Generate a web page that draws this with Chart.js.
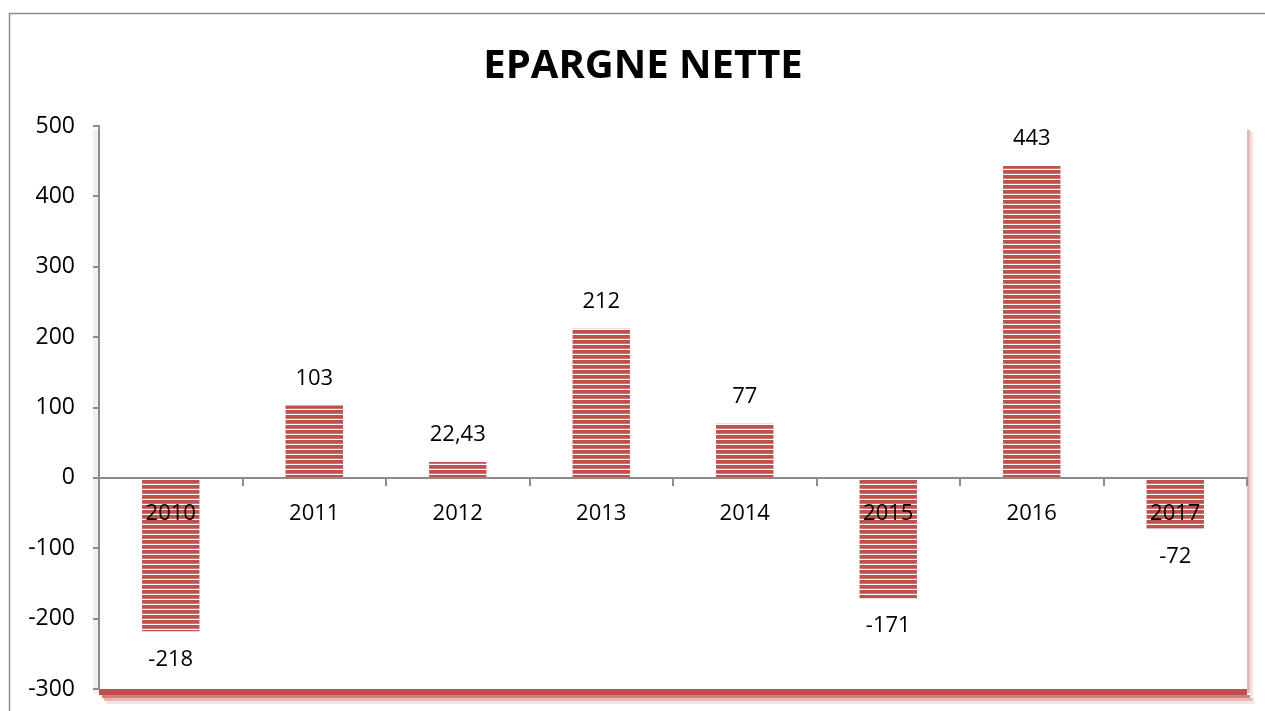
<!DOCTYPE html>
<html>
<head>
<meta charset="utf-8">
<script src="https://cdn.jsdelivr.net/npm/chart.js@4"></script>
<style>
html,body{margin:0;padding:0;background:#fff;}
#wrap{width:1265px;height:711px;position:relative;}
</style>
</head>
<body>
<div id="wrap"><canvas id="c" width="1265" height="711"></canvas></div>
<script>
const categories = ['2010','2011','2012','2013','2014','2015','2016','2017'];
const epargneNette = [-218, 103, 22.43, 212, 77, -171, 443, -72];
const yTicks = { min: -300, max: 500, step: 100 };
const chartTitle = 'EPARGNE NETTE';

const RED = '#C0504D';
const FONT = '"Open Sans", "Liberation Sans", sans-serif';

function stripePattern(){
  const p = document.createElement('canvas');
  p.width = 8; p.height = 5;
  const g = p.getContext('2d');
  g.fillStyle = '#ffffff'; g.fillRect(0,0,8,5);
  g.fillStyle = RED; g.fillRect(0,0,8,3.8);
  return g.createPattern(p,'repeat');
}

const fmt = v => String(v).replace('.', ',');

const decor = {
  id: 'decor',
  beforeDraw(chart){
    const ctx = chart.ctx, a = chart.chartArea;
    ctx.save();
    ctx.strokeStyle = '#8c8c8c'; ctx.lineWidth = 1.5;
    ctx.beginPath(); ctx.moveTo(9.5, 711); ctx.lineTo(9.5, 13.5); ctx.lineTo(1265, 13.5); ctx.stroke();
    ctx.fillStyle = 'rgba(230,185,184,0.25)';
    ctx.fillRect(a.left-6, a.top+4, 6, a.bottom-a.top);
    ctx.fillStyle = '#E6B9B8'; ctx.fillRect(a.right, a.top+4, 3, a.bottom-a.top);
    ctx.fillStyle = '#F5E3E3'; ctx.fillRect(a.right+3, a.top+6, 3, a.bottom-a.top+2);
    ctx.fillStyle = RED; ctx.fillRect(a.left, a.bottom, a.right-a.left, 6);
    ctx.fillStyle = '#D17F7D'; ctx.fillRect(a.left+3, a.bottom+6, a.right-a.left, 3);
    ctx.fillStyle = '#E6B9B8'; ctx.fillRect(a.left+5, a.bottom+9, a.right-a.left+1, 3);
    ctx.fillStyle = '#F6E4E4'; ctx.fillRect(a.left+7, a.bottom+12, a.right-a.left+1, 3);
    ctx.fillStyle = '#000'; ctx.font = 'bold 40px ' + FONT;
    ctx.textAlign = 'center'; ctx.textBaseline = 'middle';
    ctx.fillText(chartTitle, 643, 67);
    ctx.restore();
  },
  afterDatasetsDraw(chart){
    const ctx = chart.ctx;
    const meta = chart.getDatasetMeta(0);
    ctx.save();
    ctx.fillStyle = '#000'; ctx.font = '22px ' + FONT;
    ctx.textAlign = 'center'; ctx.textBaseline = 'middle';
    meta.data.forEach((bar, i) => {
      const v = chart.data.datasets[0].data[i];
      const y = v >= 0 ? bar.y - 27 : bar.y + 28;
      ctx.fillText(fmt(v), bar.x, y);
    });
    ctx.restore();
  }
};

new Chart(document.getElementById('c'), {
  type: 'bar',
  data: {
    labels: categories,
    datasets: [{
      data: epargneNette,
      backgroundColor: stripePattern(),
      borderWidth: 0,
      categoryPercentage: 1,
      barPercentage: 0.4
    }]
  },
  options: {
    responsive: false,
    animation: false,
    events: [],
    layout: { padding: { left: 0, top: 126, right: 18, bottom: 22 } },
    plugins: { legend: { display: false }, title: { display: false }, tooltip: { enabled: false } },
    scales: {
      x: {
        position: { y: 0 },
        afterFit(s){ s.height = 0; },
        grid: { display: true, drawOnChartArea: false, drawTicks: true, tickLength: 7, color: '#8c8c8c', lineWidth: 2, offset: true, z: 1 },
        border: { display: true, color: '#8c8c8c', width: 2, z: 1 },
        ticks: { color: '#000', font: { family: FONT, size: 22 }, padding: 16, maxRotation: 0, z: 1 }
      },
      y: {
        min: yTicks.min, max: yTicks.max,
        afterFit(s){ s.width = 99; s.paddingBottom = 0; s.paddingTop = 0; },
        grid: { display: true, drawOnChartArea: false, drawTicks: true, tickLength: 6, color: '#8c8c8c', lineWidth: 2 },
        border: { display: true, color: '#8c8c8c', width: 2 },
        ticks: { stepSize: yTicks.step, color: '#000', font: { family: FONT, size: 23 }, padding: 18 }
      }
    }
  },
  plugins: [decor]
});
</script>
</body>
</html>
